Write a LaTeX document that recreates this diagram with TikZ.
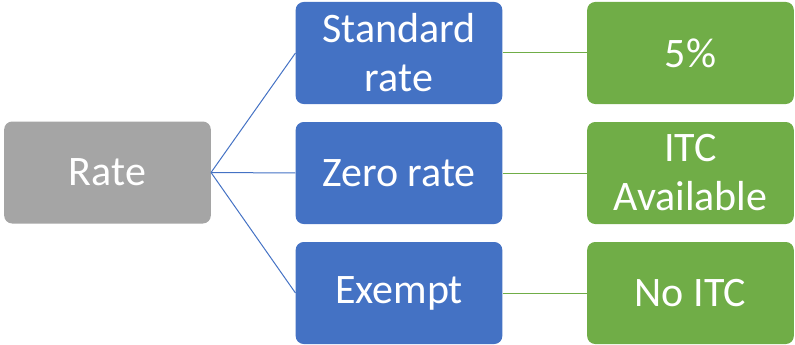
\documentclass[tikz,border=0pt]{standalone}
\usepackage{fontspec}
\setmainfont{Carlito}
\definecolor{rategray}{HTML}{A5A5A5}
\definecolor{kindblue}{HTML}{4472C4}
\definecolor{itcgreen}{HTML}{70AD47}

\begin{document}
\begin{tikzpicture}[x=1pt, y=-1pt,
    box/.style={rounded corners=8pt, minimum width=206pt, minimum height=102pt, text width=200pt, align=flush center, text=white, font=\fontsize{42}{49}\selectfont},
    kind/.style={box, fill=kindblue},
    itc/.style={box, fill=itcgreen}]
    \useasboundingbox (0,0) rectangle (795,345);

    \node[box, fill=rategray] (rate) at (107.5,172.5) {Rate};

    \node[kind] (std) at (399,53) {Standard\\rate};
    \node[kind] (zero) at (399,173) {Zero rate};
    \node[kind] (exempt) at (399,293) {Exempt};

    \node[itc] (five) at (690.5,53) {5\%};
    \node[itc] (avail) at (690.5,173) {ITC\\Available};
    \node[itc] (noitc) at (690.5,293) {No ITC};

    \foreach \k in {std, zero, exempt}
        \draw[kindblue, line width=1pt] (rate.east) -- (\k.west);

    \draw[itcgreen, line width=1pt] (std.east) -- (five.west);
    \draw[itcgreen, line width=1pt] (zero.east) -- (avail.west);
    \draw[itcgreen, line width=1pt] (exempt.east) -- (noitc.west);
\end{tikzpicture}
\end{document}
